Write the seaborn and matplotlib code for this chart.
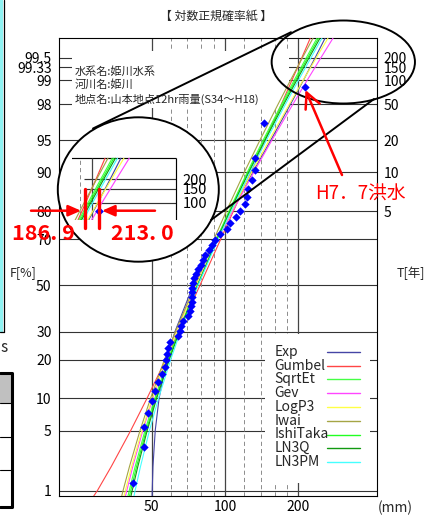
import numpy as np
import pandas as pd
import seaborn as sns
import matplotlib
matplotlib.use("Agg")
import matplotlib.pyplot as plt
from matplotlib.patches import Ellipse, Rectangle
from matplotlib.transforms import Bbox, TransformedBbox
from statistics import NormalDist

# ---- 図から読み取った値 ----
# 確率紙の縦軸に取る非超過確率[%]
prob_levels = [0.85, 1, 2, 5, 10, 20, 30, 50, 70, 80, 90, 95, 98, 99, 99.5, 99.744]

# 各手法の確率雨量[mm] (prob_levels に対応)
exp_mm = [50.2, 50.25, 50.6, 51.7, 53.6, 57.7, 62.3, 74.0, 91.8, 105.9, 130.0, 154.2, 186.0, 210.2, 234.3, 257.6]
gumbel_mm = [28.9, 29.9, 34.1, 41.0, 47.8, 57.1, 64.6, 78.9, 96.1, 108.3, 127.7, 146.3, 170.5, 188.5, 206.6, 223.9]
sqrtet_mm = [39.96, 40.43, 42.75, 46.92, 51.48, 58.30, 64.31, 76.75, 92.20, 103.82, 123.45, 143.40, 170.84, 192.57, 215.44, 238.60]
gev_mm = [39.03, 39.50, 41.81, 45.96, 50.50, 57.29, 63.28, 75.67, 93.76, 107.58, 131.30, 155.82, 190.18, 217.84, 247.34, 277.58]
logp3_mm = [38.48, 38.96, 41.33, 45.58, 50.23, 57.18, 63.31, 76.03, 93.29, 106.42, 128.80, 151.85, 183.93, 209.61, 236.88, 264.74]
iwai_mm = [37.66, 38.13, 40.51, 44.77, 49.43, 56.40, 62.55, 75.31, 90.15, 101.30, 120.09, 139.16, 165.32, 186.00, 207.76, 229.74]
ishitaka_mm = [40.54, 41.00, 43.31, 47.46, 51.99, 58.77, 64.75, 77.12, 92.80, 104.61, 124.57, 144.88, 172.84, 195.01, 218.35, 242.00]
ln3q_mm = [41.11, 41.57, 43.84, 47.92, 52.38, 59.07, 64.96, 77.12, 93.05, 105.06, 125.38, 146.10, 174.65, 197.32, 221.22, 245.46]
ln3pm_mm = [42.30, 42.74, 44.96, 48.94, 53.30, 59.84, 65.60, 77.48, 93.74, 106.00, 126.80, 148.02, 177.32, 200.60, 225.19, 250.14]

methods = ["Exp", "Gumbel", "SqrtEt", "Gev", "LogP3", "Iwai", "IshiTaka", "LN3Q", "LN3PM"]
curves = [exp_mm, gumbel_mm, sqrtet_mm, gev_mm, logp3_mm, iwai_mm, ishitaka_mm, ln3q_mm, ln3pm_mm]
colors = {"Exp": "#4545a5", "Gumbel": "#ff4545", "SqrtEt": "#45ff45", "Gev": "#ff45ff",
          "LogP3": "#ffff45", "Iwai": "#a5a545", "IshiTaka": "#22ff22", "LN3Q": "#119911",
          "LN3PM": "#45ffff"}

# 実測値(12時間雨量 mm)とプロット位置[%]
obs_mm = [41.8, 46.3, 46.7, 48.3, 50.1, 51.6, 53.3, 54.9, 56.7, 57.2, 57.6, 58.5, 59.4, 64.1,
          65.3, 66.0, 67.2, 70.5, 71.8, 72.8, 73.0, 73.2, 73.4, 73.5, 73.7, 74.6, 76.0, 77.7,
          79.7, 81.4, 82.8, 86.0, 88.4, 91.0, 95.4, 101.6, 104.8, 111.0, 115.2, 121.1, 123.1,
          124.3, 129.1, 133.1, 133.1, 145.0, 213.0]
obs_pct = [1.245, 3.32, 5.394, 7.469, 9.544, 11.618, 13.693, 15.768, 17.842, 19.917, 21.992,
           24.066, 26.141, 28.216, 30.29, 32.365, 34.44, 36.515, 38.589, 40.664, 42.739, 44.813,
           46.888, 48.963, 51.037, 53.112, 55.187, 57.261, 59.336, 61.411, 63.485, 65.56, 67.635,
           69.71, 71.784, 73.859, 75.934, 78.008, 80.083, 82.158, 84.232, 86.307, 88.382, 90.456,
           92.531, 96.68, 98.755]

# 目盛り
grid_pct = [1, 5, 10, 20, 30, 50, 70, 80, 90, 95, 98, 99, 99.33, 99.5]
left_labels = ["1", "5", "10", "20", "30", "50", "70", "80", "90", "95", "98", "99", "99.33", "99.5"]
return_pct = [99.5, 99.33, 99, 98, 95, 90, 80]
return_years = ["200", "150", "100", "50", "20", "10", "5"]
major_mm = [50, 100, 200]
minor_mm = [60, 70, 80, 90, 120, 140, 160, 180]
marked_mm = [186.9, 213.0]


def pz(p):
    # 非超過確率[%] -> 正規確率紙の縦座標
    return NormalDist().inv_cdf(p / 100.0)


W, H = 425, 516
sns.set_theme(style="white")
plt.rcParams["font.family"] = ["Liberation Sans Narrow", "Noto Sans CJK JP", "DejaVu Sans"]
plt.rcParams["lines.scale_dashes"] = False
CJK = ["Noto Sans CJK JP", "DejaVu Sans"]

fig = plt.figure(figsize=(W / 100, H / 100), dpi=100, facecolor="white")


def fx(x):
    return x / W


def fy(y):
    return 1 - y / H


df = pd.DataFrame({
    "method": np.repeat(methods, len(prob_levels)),
    "mm": np.concatenate(curves),
    "z": [pz(p) for p in prob_levels] * len(methods),
})
obs_z = [pz(p) for p in obs_pct]
z_bot, z_top = pz(0.851), pz(99.7435)
x_lo, x_hi = 20.87, 422.2

# ---- 本体 ----
ax = fig.add_axes([fx(59.3), fy(496), (377.3 - 59.3) / W, (496 - 38.3) / H])
ax.set_xscale("log")
sns.lineplot(data=df, x="mm", y="z", hue="method", hue_order=methods, palette=colors,
             estimator=None, sort=False, legend=False, linewidth=0.8, ax=ax, zorder=3)
sns.scatterplot(x=obs_mm, y=obs_z, marker="D", color="#0000ff", s=18, linewidth=0, ax=ax, zorder=4)

for p in grid_pct:
    ax.axhline(pz(p), color="#333333", lw=0.8, zorder=1)
for v in major_mm:
    ax.axvline(v, color="#444444", lw=0.9, zorder=1)
for v in minor_mm:
    ax.axvline(v, color="#8c8c8c", lw=0.7, ls=(0, (3, 2.2)), zorder=1)

# 凡例・地点名の白地
ax.add_patch(Rectangle((fx(72), fy(108)), (289 - 72) / W, (108 - 51) / H, transform=fig.transFigure,
                       facecolor="white", edgecolor="none", zorder=2))
ax.add_patch(Rectangle((fx(265), fy(483)), (370 - 265) / W, (483 - 334) / H, transform=fig.transFigure,
                       facecolor="white", edgecolor="none", zorder=2))

ax.set_xlim(x_lo, x_hi)
ax.set_ylim(z_bot, z_top)
ax.set_xticks(major_mm)
ax.set_xticklabels(["50", "100", "200"])
ax.xaxis.set_minor_locator(plt.NullLocator())
ax.set_yticks([pz(p) for p in grid_pct])
ax.set_yticklabels(left_labels)
ax.tick_params(axis="both", length=0, labelsize=10, colors="black")
ax.tick_params(axis="y", pad=5.6)
ax.tick_params(axis="x", pad=3.2)
ax.set_xlabel("")
ax.set_ylabel("")
ax.grid(False)
for s in ax.spines.values():
    s.set_visible(True)
    s.set_color("black")
    s.set_linewidth(0.8)
for lab, p in zip(return_years, return_pct):
    ax.text(1 + 6 / 318, pz(p), lab, transform=ax.get_yaxis_transform(), ha="left",
            va="center_baseline", fontsize=10, color="black")

# ---- 拡大図 ----
ax_in = fig.add_axes([fx(57.8), fy(261.7), 161 / W, 144.4 / H])
ax_in.set_xscale("log")
ax_in.axis("off")
ell_fill = Ellipse((fx(138.3), fy(189.5)), 161 / W, 144.4 / H, transform=fig.transFigure,
                   facecolor="white", edgecolor="none", zorder=0)
ax_in.add_patch(ell_fill)
ell_fill.set_clip_on(False)
sns.lineplot(data=df, x="mm", y="z", hue="method", hue_order=methods, palette=colors,
             estimator=None, sort=False, legend=False, linewidth=0.85, ax=ax_in, zorder=3)
sns.scatterplot(x=obs_mm, y=obs_z, marker="D", color="#0000ff", s=20, linewidth=0, ax=ax_in, zorder=4)
ax_in.hlines([pz(p) for p in return_pct[:3]], 186, x_hi, color="#333333", lw=0.85, zorder=1)
ax_in.hlines(z_top, 100, x_hi, color="black", lw=0.85, zorder=1)
ax_in.vlines(x_hi, 1.5, z_top, color="black", lw=0.85, zorder=1)
ax_in.vlines(200, 1.5, z_top, color="#444444", lw=0.9, zorder=1)
ax_in.vlines(180, 1.5, z_top, color="#8c8c8c", lw=0.7, ls=(0, (3, 2.2)), zorder=1)
for lab, p in zip(return_years[:3], return_pct[:3]):
    ax_in.text(447, pz(p), lab, ha="left", va="center_baseline", fontsize=10.5, color="black")
ax_in.set_xlim(147.2, 615)
ax_in.set_ylim(1.699, 3.235)
ax_in.set_xlabel("")
ax_in.set_ylabel("")

ell_clip = Ellipse((fx(138.3), fy(189.5)), 161 / W, 144.4 / H, transform=fig.transFigure)
src_box = TransformedBbox(Bbox.from_extents(fx(71.7), fy(220), fx(230), fy(100)), fig.transFigure)
for art in list(ax_in.lines) + list(ax_in.collections):
    art.set_clip_box(src_box)
    art.set_clip_path(ell_clip)

# ---- 注記など ----
ax_top = fig.add_axes([0, 0, 1, 1])
ax_top.set_xlim(0, W)
ax_top.set_ylim(H, 0)
ax_top.set_autoscale_on(False)
ax_top.axis("off")

ax_top.text(216.5, 16.5, "【 対数正規確率紙 】", ha="center", va="center", fontsize=8.6, family=CJK)
ax_top.text(75, 71.5, "水系名:姫川水系", ha="left", va="center", fontsize=8, family=CJK)
ax_top.text(75, 85, "河川名:姫川", ha="left", va="center", fontsize=8, family=CJK)
ax_top.text(75, 99, "地点名:山本地点12hr雨量(S34～H18)", ha="left", va="center", fontsize=8, family=CJK)
ax_top.text(23, 273, "F[%]", ha="center", va="center", fontsize=9)
ax_top.text(397, 273, "T[年]", ha="left", va="center", fontsize=9)
ax_top.text(378, 508, "(mm)", ha="left", va="center", fontsize=10)

# 凡例
for i, m in enumerate(methods):
    yy = 351.7 + i * 13.8
    ax_top.text(274.7, yy, m, ha="left", va="center", fontsize=10)
    ax_top.plot([327, 360.3], [yy, yy], color=colors[m], lw=1.0)

# 楕円と引出し線
ax_top.add_patch(Ellipse((343.3, 62), 143.3, 83, fill=False, edgecolor="black", lw=1.4))
ax_top.add_patch(Ellipse((138.3, 189.5), 161, 144.4, fill=False, edgecolor="black", lw=1.4))
ax_top.plot([93, 291], [128.5, 32.2], color="black", lw=1.4)
ax_top.plot([211, 374], [220, 99], color="black", lw=1.4)

# 赤の注記
for v in marked_mm:
    ax_top.plot([v, v], [pz(98), pz(99.33)], transform=ax_in.transData, color="red", lw=2.4)
head = "-|>,head_length=0.75,head_width=0.33"
ax_top.annotate("", xy=(81, 210.7), xytext=(31, 210.7),
                arrowprops=dict(arrowstyle=head, color="red", lw=1.8, shrinkA=0, shrinkB=0, mutation_scale=10))
ax_top.annotate("", xy=(102, 210.7), xytext=(155, 210.7),
                arrowprops=dict(arrowstyle=head, color="red", lw=1.8, shrinkA=0, shrinkB=0, mutation_scale=10))
ax_top.text(43.3, 233.3, "186. 9", ha="center", va="center", fontsize=15.5, fontweight="bold", color="red")
ax_top.text(142, 233.3, "213. 0", ha="center", va="center", fontsize=15.5, fontweight="bold", color="red")
ax_top.text(315.3, 194, "H7．7洪水", ha="left", va="center", fontsize=13.5, color="red", family=CJK)
ax_top.annotate("", xy=(305.5, 90), xytext=(342, 175),
                arrowprops=dict(arrowstyle="->,head_length=1.1,head_width=0.55", color="red", lw=1.8,
                                shrinkA=0, shrinkB=0, mutation_scale=10))

# 左側のウィンドウ枠
ax_top.add_patch(Rectangle((0, 0), 3.5, 332, facecolor="#8ff2f2", edgecolor="none"))
ax_top.plot([3.8, 3.8], [0, 332], color="black", lw=0.9)
ax_top.plot([0, 3.8], [332, 332], color="black", lw=0.9)
ax_top.text(0.5, 347, "s", ha="left", va="center", fontsize=11)
ax_top.add_patch(Rectangle((0, 373), 12, 30, facecolor="#c0c0c0", edgecolor="none"))
ax_top.plot([0, 12, 12, 0], [373, 373, 506.7, 506.7], color="black", lw=2.2)
for yy in [403, 437.3, 470]:
    ax_top.plot([0, 12], [yy, yy], color="black", lw=0.8)

fig.savefig("out.png", dpi=100, facecolor="white")
